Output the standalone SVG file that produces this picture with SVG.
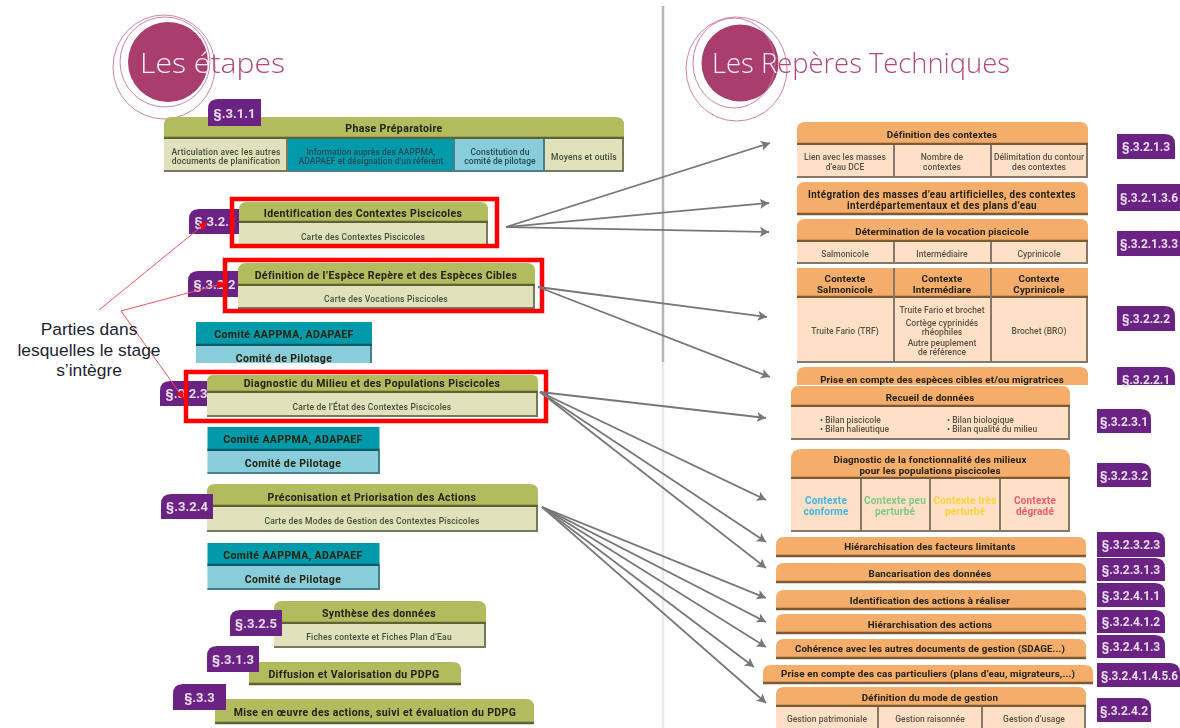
<svg xmlns="http://www.w3.org/2000/svg" width="1180" height="728" viewBox="0 0 1180 728">
<style>
text{font-family:Roboto,"Liberation Sans",sans-serif;text-anchor:middle}
.oh{fill:#b3bb5f}.oc{fill:#dfe2bb}.ol{stroke:#5f6233;stroke-width:2.5;fill:none}.os{stroke:#77785f;stroke-width:2;fill:none}
.th{fill:#009aab}.tc{fill:#88cdd9}.tl{stroke:#0b5a66;stroke-width:2.5;fill:none}.ts{stroke:#4a7f8b;stroke-width:2;fill:none}
.ah{fill:#f4ad6b}.ac{fill:#fde0c6}.al{stroke:#7d5a36;stroke-width:2.5;fill:none}.as{stroke:#85786b;stroke-width:2;fill:none}
.b{fill:#6b2183}
.bt{font-size:13px;font-weight:700;fill:#e9ddf0}
.br{font-size:12px;font-weight:700;fill:#e9ddf0;letter-spacing:-.1px}
.h{font-size:10.5px;font-weight:700;fill:#20200f;letter-spacing:.38px}
.hr{font-size:9.8px;font-weight:700;fill:#20200f;letter-spacing:.15px}
.c{font-size:8.5px;font-weight:500;fill:#4a4a3c;letter-spacing:.2px}
.c2{font-size:8.5px;font-weight:500;fill:#1f4a55;letter-spacing:.05px}
.k{font-size:8.5px;font-weight:500;fill:#5b5147;letter-spacing:.05px}
.cc{font-size:10px;font-weight:700;letter-spacing:.2px}
.ttl{font-family:"Open Sans",Lato,sans-serif;font-weight:300;font-size:28px;text-anchor:start;fill:#b3467a}
.ring{fill:none;stroke:#c9749c;stroke-width:.9}
.red{fill:none;stroke:#f00;stroke-width:4.5}
.g{stroke:#777;stroke-width:1.8;fill:none;marker-end:url(#ag)}
.rl{stroke:#f2555c;stroke-width:1;fill:none}
.note{font-family:"Liberation Sans",Arial,sans-serif;font-size:17.4px;fill:#1d2430}
</style>
<defs>
<marker id="ag" markerUnits="userSpaceOnUse" markerWidth="11" markerHeight="11" refX="9" refY="5" orient="auto"><path d="M0 0L9 5L0 10L2 5Z" fill="#777"/></marker>
<marker id="ar" markerUnits="userSpaceOnUse" markerWidth="9" markerHeight="9" refX="8" refY="4" orient="auto"><path d="M0 0L8 4L0 8Z" fill="#f00"/></marker>
<filter id="soft" filterUnits="userSpaceOnUse" x="0" y="0" width="1180" height="728"><feGaussianBlur stdDeviation=".4"/></filter>
</defs>
<g id="separator"><path d="M663 6V362" stroke="#b5b5b5" stroke-width="2.5"/><path d="M663 362V728" stroke="#e9e9e9" stroke-width="2.5"/></g>
<g filter="url(#soft)">
<g id="title-etapes">
<circle cx="168" cy="62" r="40" fill="#a83d6e"/><ellipse class="ring" cx="164" cy="67" rx="51" ry="52"/><ellipse class="ring" cx="165" cy="62" rx="45" ry="45"/>
<text class="ttl" x="140" y="73" textLength="145" lengthAdjust="spacingAndGlyphs"><tspan fill="#fbeef4">Les é</tspan>tapes</text>
</g>
<g id="title-reperes">
<circle cx="740" cy="63" r="38.5" fill="#a83d6e"/><ellipse class="ring" cx="736.500" cy="69" rx="50.500" ry="52"/><ellipse class="ring" cx="734" cy="63" rx="41" ry="45"/>
<text class="ttl" x="712" y="73" textLength="298" lengthAdjust="spacingAndGlyphs"><tspan fill="#fbeef4">Les R</tspan>epères Techniques</text>
</g>

<g id="phase">
<path class="oh" d="M164 139V125q0-8 8-8H616q8 0 8 8V139Z"/><path class="ol" d="M164 138H624"/>
<rect class="oc" x="164" y="139" width="124" height="33"/><path class="os" d="M287 139V171H164"/>
<rect class="th" x="288" y="139" width="167" height="33"/><path class="ts" d="M454 139V171H288"/>
<rect class="tc" x="455" y="139" width="90" height="33"/><path class="ts" d="M544 139V171H455"/>
<rect class="oc" x="545" y="139" width="79" height="33"/><path class="os" d="M623 139V171H545"/>
<text class="h" x="394" y="132">Phase Préparatoire</text>
<text class="c" x="226" y="155">Articulation avec les autres</text><text class="c" x="226" y="164">documents de planification</text>
<text class="c2" x="371" y="155">Information auprès des AAPPMA,</text><text class="c2" x="371" y="164">ADAPAEF et désignation d’un référent</text>
<text class="c2" x="500" y="155">Constitution du</text><text class="c2" x="500" y="164">comité de pilotage</text>
<text class="c" x="584" y="160">Moyens et outils</text>
<path class="b" d="M208 126V109q0-10 10-10H261V126Z"/><text class="bt" x="234.500" y="118">§.3.1.1</text>
</g>

<g id="s321">
<path class="b" d="M189 234V219q0-10 10-10H242V234Z"/><text class="bt" x="215.500" y="226">§.3.2.1</text>
<path class="oh" d="M239 223V210q0-8 8-8H480q8 0 8 8V223Z"/><path class="ol" d="M239 222H488"/>
<rect class="oc" x="239" y="223" width="249" height="23"/><path class="os" d="M487 223V245H239"/>
<text class="h" x="363" y="217">Identification des Contextes Piscicoles</text><text class="c" x="363" y="240">Carte des Contextes Piscicoles</text>
</g>
<g id="s322">
<path class="b" d="M188 297V281q0-10 10-10H241V297Z"/><text class="bt" x="214.500" y="289">§.3.2.2</text>
<path class="oh" d="M238 286V271q0-8 8-8H527q8 0 8 8V286Z"/><path class="ol" d="M238 285H535"/>
<rect class="oc" x="238" y="286" width="297" height="23"/><path class="os" d="M534 286V308H238"/>
<text class="h" x="386" y="279">Définition de l’Espèce Repère et des Espèces Cibles</text><text class="c" x="386" y="302">Carte des Vocations Piscicoles</text>
</g>
<g id="comite1">
<rect class="th" x="196" y="322" width="176" height="24"/><path class="tl" d="M196 345H372"/>
<rect class="tc" x="196" y="346" width="176" height="17"/><path class="ts" d="M371 346V363"/>
<text class="h" x="284" y="338">Comité AAPPMA, ADAPAEF</text><text class="h" x="284" y="362">Comité de Pilotage</text>
</g>
<g id="s323">
<path class="b" d="M160 406V391q0-10 10-10H213V406Z"/><text class="bt" x="186.500" y="398">§.3.2.3</text>
<path class="oh" d="M207 393V381q0-6 6-6H532q6 0 6 6V393Z"/><path class="ol" d="M207 392H538"/>
<rect class="oc" x="207" y="393" width="331" height="24"/><path class="os" d="M537 393V416H207"/>
<text class="h" x="372" y="387">Diagnostic du Milieu et des Populations Piscicoles</text><text class="c" x="372" y="410">Carte de l’État des Contextes Piscicoles</text>
</g>
<g id="comite2">
<rect class="th" x="207.500" y="427" width="172" height="24"/><path class="tl" d="M207.500 450H379.500"/>
<rect class="tc" x="207.500" y="451" width="172" height="23"/><path class="ts" d="M379 451V473H207.500"/>
<text class="h" x="293" y="443">Comité AAPPMA, ADAPAEF</text><text class="h" x="293" y="467">Comité de Pilotage</text>
</g>
<g id="s324">
<path class="oh" d="M207 507V492q0-8 8-8H530q8 0 8 8V507Z"/><path class="ol" d="M207 506H538"/>
<rect class="oc" x="207" y="507" width="331" height="25"/><path class="os" d="M537 507V531H207"/>
<text class="h" x="372" y="501">Préconisation et Priorisation des Actions</text><text class="c" x="372" y="524">Carte des Modes de Gestion des Contextes Piscicoles</text>
<path class="b" d="M161 519V504q0-10 10-10H213V519Z"/><text class="bt" x="187" y="511">§.3.2.4</text>
</g>
<g id="comite3">
<rect class="th" x="207.500" y="543" width="172" height="23"/><path class="tl" d="M207.500 565H379.500"/>
<rect class="tc" x="207.500" y="566" width="172" height="24"/><path class="ts" d="M379 566V589H207.500"/>
<text class="h" x="293" y="559">Comité AAPPMA, ADAPAEF</text><text class="h" x="293" y="583">Comité de Pilotage</text>
</g>
<g id="s325">
<path class="oh" d="M274 624V609q0-8 8-8H478q8 0 8 8V624Z"/><path class="ol" d="M274 623H486"/>
<rect class="oc" x="274" y="624" width="212" height="24"/><path class="os" d="M485 624V647H274"/>
<text class="h" x="379" y="617">Synthèse des données</text><text class="c" x="379" y="640">Fiches contexte et Fiches Plan d’Eau</text>
<path class="b" d="M230 636V620q0-10 10-10H282V636Z"/><text class="bt" x="256" y="628">§.3.2.5</text>
</g>
<g id="s313">
<path class="oh" d="M249 685V670q0-8 8-8H453q8 0 8 8V685Z"/><path class="ol" d="M249 684H461"/>
<text class="h" x="354" y="678">Diffusion et Valorisation du PDPG</text>
<path class="b" d="M207 672V656q0-10 10-10H259V672Z"/><text class="bt" x="233" y="664">§.3.1.3</text>
</g>
<g id="s33">
<path class="oh" d="M215 724V707q0-8 8-8H526q8 0 8 8V724Z"/><path class="ol" d="M215 723H534"/>
<text class="h" x="375" y="716">Mise en œuvre des actions, suivi et évaluation du PDPG</text>
<path class="b" d="M173 710V694q0-10 10-10H226V710Z"/><text class="bt" x="199.500" y="702">§.3.3</text>
</g>

<g id="r-contextes">
<path class="ah" d="M797 145V130q0-8 8-8H1080q8 0 8 8V145Z"/><path class="al" d="M797 144H1088"/>
<rect class="ac" x="797" y="145" width="291" height="33"/><path class="as" d="M894 145V177M991 145V177M1087 145V177H797"/>
<text class="hr" x="942" y="138">Définition des contextes</text>
<text class="k" x="845" y="160">Lien avec les masses</text><text class="k" x="845" y="170">d’eau DCE</text>
<text class="k" x="942" y="160">Nombre de</text><text class="k" x="942" y="170">contextes</text>
<text class="k" x="1039" y="160">Délimitation du contour</text><text class="k" x="1039" y="170">des contextes</text>
<path class="b" d="M1117 134H1165q10 0 10 10V159H1117Z"/><text class="br" x="1146" y="151">§.3.2.1.3</text>
</g>
<g id="r-integration">
<path class="ah" d="M797 215V190q0-8 8-8H1080q8 0 8 8V215Z"/><path class="al" d="M797 214H1088"/>
<text class="h" x="942" y="197.500" style="font-size:10.500px" textLength="268" lengthAdjust="spacingAndGlyphs">Intégration des masses d’eau artificielles, des contextes</text><text class="h" x="942" y="208.500" style="font-size:10.500px" textLength="190" lengthAdjust="spacingAndGlyphs">interdépartementaux et des plans d’eau</text>
<path class="b" d="M1117 184H1180V211H1117Z"/><text class="br" x="1120" y="202" style="text-anchor:start" textLength="58" lengthAdjust="spacingAndGlyphs">§.3.2.1.3.6</text>
</g>
<g id="r-vocation">
<path class="ah" d="M797 242V227q0-8 8-8H1080q8 0 8 8V242Z"/><path class="al" d="M797 241H1088"/>
<rect class="ac" x="797" y="242" width="291" height="22"/><path class="as" d="M894 242V263M991 242V263M1087 242V263H797"/>
<text class="hr" x="942" y="235">Détermination de la vocation piscicole</text>
<text class="k" x="845" y="257">Salmonicole</text><text class="k" x="942" y="257">Intermédiaire</text><text class="k" x="1039" y="257">Cyprinicole</text>
<path class="b" d="M1117 231H1180V256H1117Z"/><text class="br" x="1120" y="248" style="text-anchor:start" textLength="58" lengthAdjust="spacingAndGlyphs">§.3.2.1.3.3</text>
</g>
<g id="r-especes">
<rect class="ah" x="797" y="268" width="291" height="30"/><path class="al" d="M797 297H1088"/><path class="as" d="M894 268V298M991 268V298"/>
<rect class="ac" x="797" y="298" width="291" height="65"/><path class="as" d="M894 298V362M991 298V362M1087 298V362H797"/>
<text class="hr" x="845" y="282">Contexte</text><text class="hr" x="845" y="293">Salmonicole</text>
<text class="hr" x="942" y="282">Contexte</text><text class="hr" x="942" y="293">Intermédiare</text>
<text class="hr" x="1039" y="282">Contexte</text><text class="hr" x="1039" y="293">Cyprinicole</text>
<text class="k" x="845" y="334">Truite Fario (TRF)</text>
<text class="k" x="942" y="313">Truite Fario et brochet</text><text class="k" x="942" y="326">Cortège cyprinidés</text><text class="k" x="942" y="335">rhéophiles</text><text class="k" x="942" y="346">Autre peuplement</text><text class="k" x="942" y="355">de référence</text>
<text class="k" x="1039" y="334">Brochet (BRO)</text>
<path class="b" d="M1117 306H1165q10 0 10 10V331H1117Z"/><text class="br" x="1146" y="323">§.3.2.2.2</text>
</g>
<g id="r-cibles">
<path class="ah" d="M797 385V375q0-8 8-8H1080q8 0 8 8V385Z"/>
<text class="hr" x="942" y="383">Prise en compte des espèces cibles et/ou migratrices</text>
<path class="b" d="M1117 385V367H1165q10 0 10 10V385Z"/><text class="br" x="1146" y="384">§.3.2.2.1</text>
</g>
<g id="r-recueil">
<path class="ah" d="M791 407V394q0-8 8-8H1062q8 0 8 8V407Z"/><path class="al" d="M791 406H1070"/>
<rect class="ac" x="791" y="407" width="279" height="33"/><path class="as" d="M1069 407V439H791"/>
<text class="hr" x="930" y="401">Recueil de données</text>
<text class="k" x="820" y="423" style="text-anchor:start">• Bilan piscicole</text><text class="k" x="820" y="432" style="text-anchor:start">• Bilan halieutique</text>
<text class="k" x="947" y="423" style="text-anchor:start">• Bilan biologique</text><text class="k" x="947" y="432" style="text-anchor:start">• Bilan qualité du milieu</text>
<path class="b" d="M1097 409H1141q10 0 10 10V433H1097Z"/><text class="br" x="1124" y="426">§.3.2.3.1</text>
</g>
<g id="r-fonctionnalite">
<path class="ah" d="M791 479V459q0-10 10-10H1060q10 0 10 10V479Z"/><path class="al" d="M791 478H1070"/>
<rect class="ac" x="791" y="479" width="279" height="53"/><path class="as" d="M861 479V531M930 479V531M1000 479V531M1069 479V531H791"/>
<text class="hr" x="930" y="463">Diagnostic de la fonctionnalité des milieux</text><text class="hr" x="930" y="474">pour les populations piscicoles</text>
<text class="cc" x="826" y="504" fill="#3fb5e6">Contexte</text><text class="cc" x="826" y="515" fill="#3fb5e6">conforme</text>
<text class="cc" x="895" y="504" fill="#7fc98a">Contexte peu</text><text class="cc" x="895" y="515" fill="#7fc98a">perturbé</text>
<text class="cc" x="965" y="504" fill="#fdd33a">Contexte très</text><text class="cc" x="965" y="515" fill="#fdd33a">perturbé</text>
<text class="cc" x="1035" y="504" fill="#ee5a6f">Contexte</text><text class="cc" x="1035" y="515" fill="#ee5a6f">dégradé</text>
<path class="b" d="M1097 463H1141q10 0 10 10V487H1097Z"/><text class="br" x="1124" y="480">§.3.2.3.2</text>
</g>
<g id="r-facteurs">
<path class="ah" d="M776 557V545q0-8 8-8H1078q8 0 8 8V557Z"/><path class="al" d="M776 556H1086"/>
<text class="hr" x="930" y="550">Hiérarchisation des facteurs limitants</text>
<path class="b" d="M1097 532H1155q10 0 10 10V557H1097Z"/><text class="br" x="1131" y="549">§.3.2.3.2.3</text>
</g>
<g id="r-bancarisation">
<path class="ah" d="M776 583V571q0-8 8-8H1078q8 0 8 8V583Z"/><path class="al" d="M776 582H1086"/>
<text class="hr" x="930" y="577">Bancarisation des données</text>
<path class="b" d="M1097 558H1155q10 0 10 10V581H1097Z"/><text class="br" x="1131" y="574">§.3.2.3.1.3</text>
</g>
<g id="r-identification">
<path class="ah" d="M776 610V598q0-8 8-8H1078q8 0 8 8V610Z"/><path class="al" d="M776 609H1086"/>
<text class="hr" x="930" y="604">Identification des actions à réaliser</text>
<path class="b" d="M1097 583H1155q10 0 10 10V607H1097Z"/><text class="br" x="1131" y="600">§.3.2.4.1.1</text>
</g>
<g id="r-hierarchisation">
<path class="ah" d="M776 634V622q0-8 8-8H1078q8 0 8 8V634Z"/><path class="al" d="M776 633H1086"/>
<text class="hr" x="930" y="628">Hiérarchisation des actions</text>
<path class="b" d="M1097 610H1155q10 0 10 10V633H1097Z"/><text class="br" x="1131" y="626">§.3.2.4.1.2</text>
</g>
<g id="r-coherence">
<path class="ah" d="M776 659V647q0-8 8-8H1078q8 0 8 8V659Z"/><path class="al" d="M776 658H1086"/>
<text class="hr" x="930" y="652" textLength="270" lengthAdjust="spacingAndGlyphs">Cohérence avec les autres documents de gestion (SDAGE...)</text>
<path class="b" d="M1097 635H1155q10 0 10 10V658H1097Z"/><text class="br" x="1131" y="651">§.3.2.4.1.3</text>
</g>
<g id="r-cas">
<path class="ah" d="M763 684V673q0-8 8-8H1085q8 0 8 8V684Z"/><path class="al" d="M763 683H1093"/>
<text class="hr" x="928" y="677" textLength="294" lengthAdjust="spacingAndGlyphs">Prise en compte des cas particuliers (plans d’eau, migrateurs,...)</text>
<path class="b" d="M1097 663H1170q10 0 10 10V687H1097Z"/><text class="br" x="1101" y="680" style="text-anchor:start" textLength="77" lengthAdjust="spacingAndGlyphs">§.3.2.4.1.4.5.6</text>
</g>
<g id="r-mode">
<path class="ah" d="M776 707V695q0-8 8-8H1078q8 0 8 8V707Z"/><path class="al" d="M776 706H1086"/>
<rect class="ac" x="776" y="707" width="310" height="21"/><path class="as" d="M878 707V728M982 707V728M1085 707V728"/>
<text class="hr" x="930" y="701">Définition du mode de gestion</text>
<text class="k" x="827" y="722">Gestion patrimoniale</text><text class="k" x="930" y="722">Gestion raisonnée</text><text class="k" x="1034" y="722">Gestion d’usage</text>
<path class="b" d="M1097 698H1141q10 0 10 10V722H1097Z"/><text class="br" x="1124" y="715">§.3.2.4.2</text>
</g>
</g>

<g id="highlights">
<rect class="red" x="232" y="199" width="265" height="47"/>
<rect class="red" x="225" y="260" width="317" height="51"/>
<rect class="red" x="186" y="372" width="360" height="49"/>
</g>
<g id="connectors">
<path class="g" d="M506 227L770 143"/><path class="g" d="M506 227L769 203"/><path class="g" d="M506 227L769 232"/>
<path class="g" d="M538 287L767 317"/><path class="g" d="M538 287L770 377"/>
<path class="g" d="M540 392L766 418"/><path class="g" d="M540 392L766 500"/><path class="g" d="M540 392L766 542"/><path class="g" d="M540 392L766 568"/>
<path class="g" d="M542 507L766 598"/><path class="g" d="M542 507L766 622"/><path class="g" d="M542 507L766 647"/><path class="g" d="M542 507L754 667"/><path class="g" d="M542 507L766 703"/>
<path class="rl" d="M99 310L207 222" marker-end="url(#ar)"/><path class="rl" d="M121 311L225 283" marker-end="url(#ar)"/><path class="rl" d="M121 311L184 399" marker-end="url(#ar)"/>
</g>
<g id="note">
<text class="note" x="89" y="335">Parties dans</text><text class="note" x="89" y="356">lesquelles le stage</text><text class="note" x="89" y="376">s’intègre</text>
</g>
</svg>
